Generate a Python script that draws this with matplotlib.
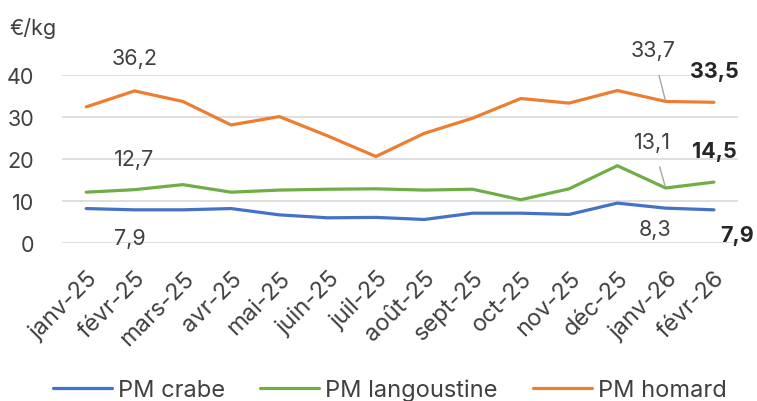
import matplotlib.pyplot as plt

plt.rcParams['font.family'] = ['Inter', 'DejaVu Sans']

months = ["janv-25", "févr-25", "mars-25", "avr-25", "mai-25", "juin-25", "juil-25",
          "août-25", "sept-25", "oct-25", "nov-25", "déc-25", "janv-26", "févr-26"]
crabe = [8.2, 7.9, 7.9, 8.2, 6.7, 6.0, 6.1, 5.6, 7.1, 7.1, 6.8, 9.5, 8.3, 7.9]
langoustine = [12.1, 12.7, 13.9, 12.1, 12.6, 12.8, 12.9, 12.6, 12.8, 10.3, 12.9, 18.4, 13.1, 14.5]
homard = [32.4, 36.2, 33.7, 28.1, 30.1, 25.5, 20.6, 26.1, 29.7, 34.4, 33.3, 36.3, 33.7, 33.5]

grey = "#404040"
dark = "#262626"
fs = 15.5
fs_txt = 17

fig = plt.figure(figsize=(7.57, 4.02), dpi=100)
ax = fig.add_axes([0.082, 0.393, 0.893, 0.418])

x = range(len(months))
ax.plot(x, crabe, color="#4472C4", lw=2.3, label="PM crabe", solid_capstyle="round")
ax.plot(x, langoustine, color="#70AD47", lw=2.3, label="PM langoustine", solid_capstyle="round")
ax.plot(x, homard, color="#ED7D31", lw=2.3, label="PM homard", solid_capstyle="round")

ax.set_xlim(-0.5, len(months) - 0.5)
ax.set_ylim(0, 40)
ax.set_yticks([0, 10, 20, 30, 40])
ax.grid(axis="y", color="#D9D9D9", lw=1.2)
ax.set_axisbelow(True)
for s in ax.spines.values():
    s.set_visible(False)
ax.tick_params(length=0, labelsize=fs, colors=grey)
ax.tick_params(axis="y", pad=20)
ax.set_xticks(list(x))
ax.set_xticklabels(months, rotation=45, ha="right", rotation_mode="anchor", fontsize=fs_txt)
ax.tick_params(axis="x", pad=17)


def fmt(v):
    return f"{v:.1f}".replace(".", ",")


def label(i, series, dx, dy, bold=False, leader=False):
    kw = dict(textcoords="offset pixels", ha="center", va="center", fontsize=fs,
              annotation_clip=False)
    if bold:
        kw.update(fontweight="bold", color=dark)
    else:
        kw.update(color=grey)
    if leader:
        kw["arrowprops"] = dict(arrowstyle="-", color="#A6A6A6", lw=1, shrinkA=9, shrinkB=1)
    ax.annotate(fmt(series[i]), (i, series[i]), xytext=(dx, dy), **kw)


label(1, homard, 0, 33)
label(1, langoustine, 0, 31)
label(1, crabe, -5, -28)
label(12, homard, -13, 51, leader=True)
label(12, langoustine, -13, 46, leader=True)
label(12, crabe, -11, -21)
label(13, homard, 0, 31, bold=True)
label(13, langoustine, 0, 31, bold=True)
label(13, crabe, 23, -25, bold=True)

fig.text(0.013, 0.93, "€/kg", fontsize=fs, color=grey, va="center")

fig.legend(loc="center", bbox_to_anchor=(0.515, 0.028), ncol=3, frameon=False,
           fontsize=fs_txt, labelcolor=grey, handlelength=2.5, handletextpad=0.25,
           columnspacing=1.5)

fig.savefig("out.png", dpi=100)
